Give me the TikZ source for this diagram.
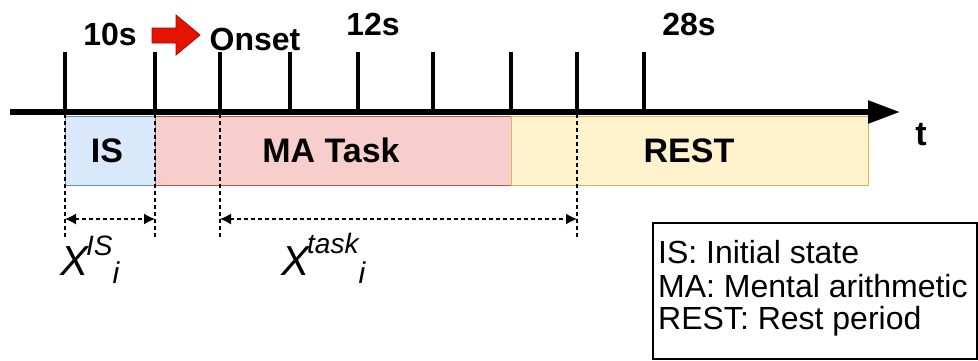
\documentclass[tikz,border=0pt]{standalone}
\usepackage{fontspec}
\setmainfont{Liberation Sans}
\usetikzlibrary{arrows.meta}
\definecolor{isF}{HTML}{DAE8FC}
\definecolor{isB}{HTML}{6C8EBF}
\definecolor{maF}{HTML}{F8CECC}
\definecolor{maB}{HTML}{B85450}
\definecolor{reF}{HTML}{FFF2CC}
\definecolor{reB}{HTML}{D6B656}
\definecolor{arrRed}{HTML}{E51400}
\definecolor{arrRedD}{HTML}{B20000}
\begin{document}
\begin{tikzpicture}[x=1pt,y=-1pt,
  toplbl/.style={font=\bfseries\fontsize{32}{32}\selectfont, anchor=base, inner sep=0pt},
  boxlbl/.style={font=\bfseries\fontsize{34}{34}\selectfont, anchor=base, inner sep=0pt},
  phase/.style={line width=1.2pt, anchor=north west, inner sep=0pt, minimum height=69pt},
  ticken/.style={line width=4.5pt},
  guide/.style={line width=1.3pt, dash pattern=on 4pt off 3pt},
  span/.style={guide, {Latex[length=11pt,width=11pt]}-{Latex[length=11pt,width=11pt]}},
  legtxt/.style={font=\fontsize{32}{32}\selectfont, anchor=base west, inner sep=0pt}
]
\useasboundingbox (0,0) rectangle (978,360);

% phase boxes
\node[phase, draw=isB, fill=isF, minimum width=90pt] (isbox) at (65,116) {};
\node[phase, draw=maB, fill=maF, minimum width=356pt] (mabox) at (155,116) {};
\node[phase, draw=reB, fill=reF, minimum width=357pt] (rebox) at (511,116) {};

% dashed guides
\foreach \x/\n in {65/ga,155/gb,220/gc,577/gd}{
  \coordinate (\n top) at (\x,114);
  \coordinate (\n bot) at (\x,237);
  \draw[guide] (\n top) -- (\n bot);
}

% axis
\coordinate (axs) at (10,112);
\coordinate (axe) at (900,112);
\draw[line width=5.5pt, -{Triangle[length=32pt,width=22pt]}] (axs) -- (axe);

% ticks
\foreach \x [count=\i] in {65,155,220,290,358,433,511,577,644}{
  \coordinate (tb\i) at (\x,114);
  \coordinate (tt\i) at (\x,52);
  \draw[ticken] (tb\i) -- (tt\i);
}

% top labels
\node[toplbl] (l10) at (110,45) {10s};
\node[toplbl] (lon) at (255,50) {Onset};
\node[toplbl] (l12) at (373,35) {12s};
\node[toplbl] (l28) at (689,35) {28s};
\draw[fill=arrRed, draw=arrRedD, line width=0.8pt]
  (152,28) -- (176,28) -- (176,15) -- (200,35) -- (176,55) -- (176,43) -- (152,43) -- cycle;

% box labels
\node[boxlbl] (tis) at (107,162) {IS};
\node[boxlbl] (tma) at (331,162) {MA Task};
\node[boxlbl] (tre) at (689,162) {REST};
\node[boxlbl] (tt) at (921,145) {t};

% spans
\coordinate (sa) at (65,219);
\coordinate (sb) at (155,219);
\coordinate (sc) at (220,219);
\coordinate (sd) at (577,219);
\draw[span] (sa) -- (sb);
\draw[span] (sc) -- (sd);

\node[anchor=base west, inner sep=0pt] (xis) at (60,275)
  {\itshape\fontsize{42}{42}\selectfont X\kern-2pt\raisebox{20pt}{\fontsize{28}{28}\selectfont IS}\raisebox{-8pt}{\fontsize{30}{30}\selectfont i}};
\node[anchor=base west, inner sep=0pt] (xtask) at (281,275)
  {\itshape\fontsize{42}{42}\selectfont X\kern-2pt\raisebox{22pt}{\fontsize{28}{28}\selectfont task}\raisebox{-8pt}{\fontsize{30}{30}\selectfont i}};

% legend
\node[draw, line width=1.5pt, anchor=north west, inner sep=0pt, minimum width=324pt, minimum height=136pt] (leg) at (652,222) {};
\node[legtxt] (leg1) at (658,263) {IS: Initial state};
\node[legtxt] (leg2) at (658,297) {MA: Mental arithmetic};
\node[legtxt] (leg3) at (658,329) {REST: Rest period};
\end{tikzpicture}
\end{document}
